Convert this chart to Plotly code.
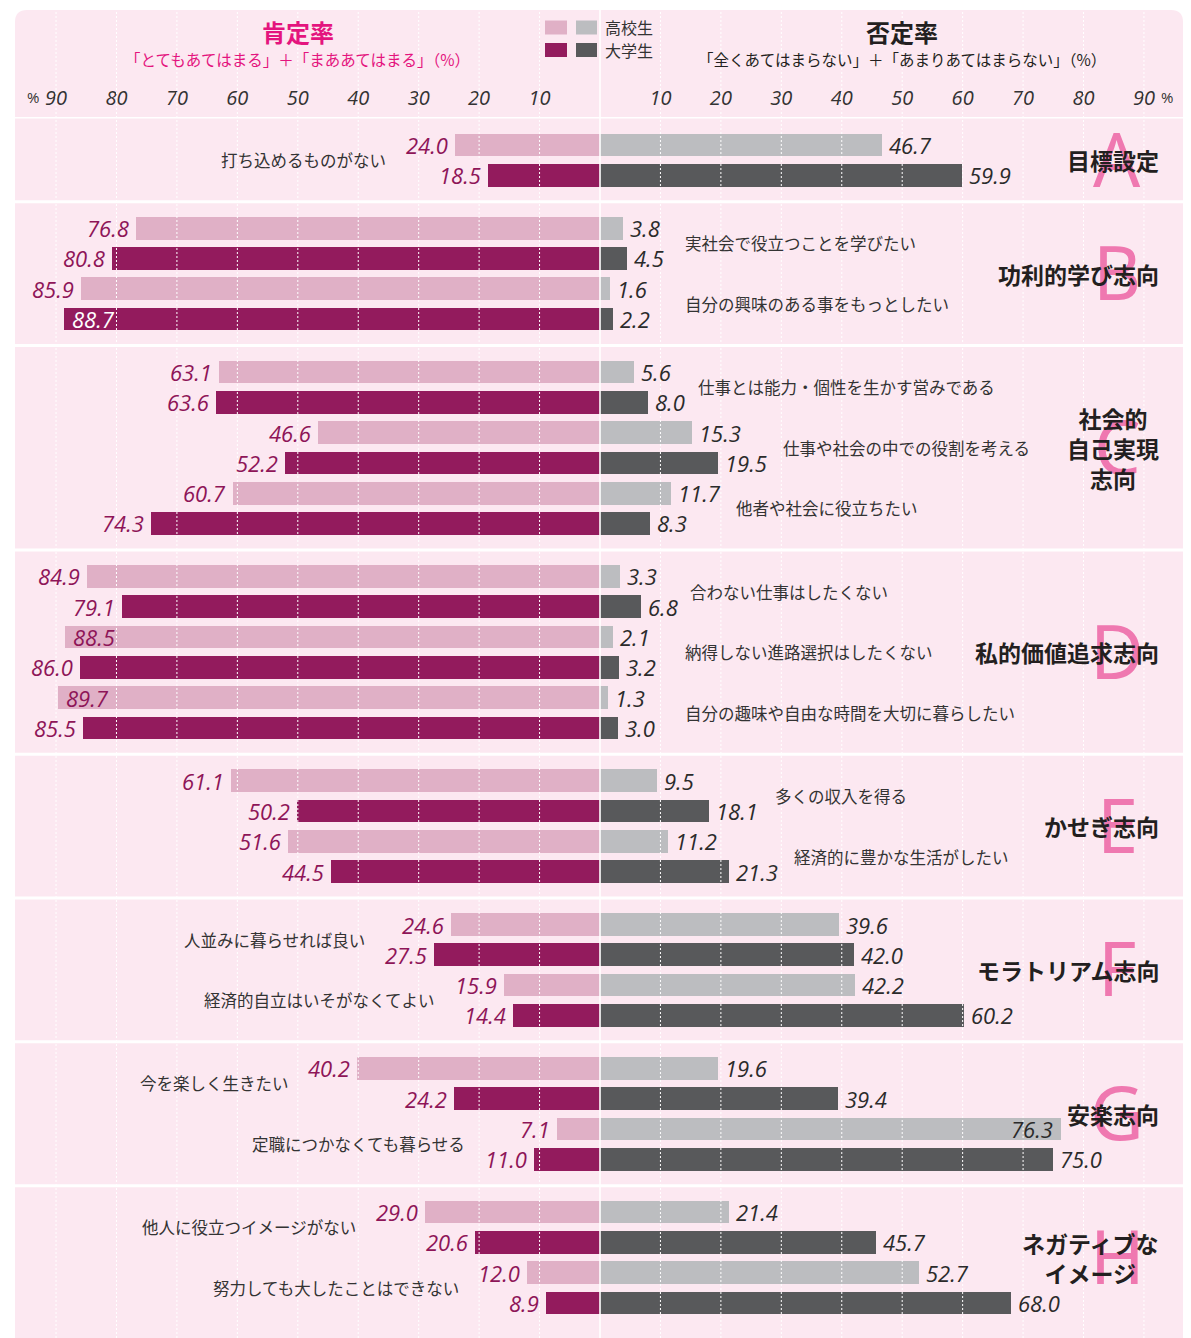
import plotly.graph_objects as go

# ---------------- data ----------------
group_titles = ["目標設定", "功利的学び志向", "社会的<br>自己実現<br>志向", "私的価値追求志向",
                "かせぎ志向", "モラトリアム志向", "安楽志向", "ネガティブな<br>イメージ"]
group_letters = ["A", "B", "C", "D", "E", "F", "G", "H"]
group_sizes = [1, 2, 3, 3, 2, 2, 2, 2]
statement_side = ["left", "right", "right", "right", "right", "left", "left", "left"]

statements = [
    "打ち込めるものがない",
    "実社会で役立つことを学びたい", "自分の興味のある事をもっとしたい",
    "仕事とは能力・個性を生かす営みである", "仕事や社会の中での役割を考える", "他者や社会に役立ちたい",
    "合わない仕事はしたくない", "納得しない進路選択はしたくない", "自分の趣味や自由な時間を大切に暮らしたい",
    "多くの収入を得る", "経済的に豊かな生活がしたい",
    "人並みに暮らせれば良い", "経済的自立はいそがなくてよい",
    "今を楽しく生きたい", "定職につかなくても暮らせる",
    "他人に役立つイメージがない", "努力しても大したことはできない",
]

# 肯定率 (positive rate, %)
pos_hs = [24.0, 76.8, 85.9, 63.1, 46.6, 60.7, 84.9, 88.5, 89.7, 61.1, 51.6, 24.6, 15.9, 40.2, 7.1, 29.0, 12.0]
pos_univ = [18.5, 80.8, 88.7, 63.6, 52.2, 74.3, 79.1, 86.0, 85.5, 50.2, 44.5, 27.5, 14.4, 24.2, 11.0, 20.6, 8.9]
# 否定率 (negative rate, %)
neg_hs = [46.7, 3.8, 1.6, 5.6, 15.3, 11.7, 3.3, 2.1, 1.3, 9.5, 11.2, 39.6, 42.2, 19.6, 76.3, 21.4, 52.7]
neg_univ = [59.9, 4.5, 2.2, 8.0, 19.5, 8.3, 6.8, 3.2, 3.0, 18.1, 21.3, 42.0, 60.2, 39.4, 75.0, 45.7, 68.0]

series_names = ["高校生", "大学生"]
tick_steps = [10, 20, 30, 40, 50, 60, 70, 80, 90]

header_pos_title = "肯定率"
header_pos_sub = "「とてもあてはまる」＋「まああてはまる」（%）"
header_neg_title = "否定率"
header_neg_sub = "「全くあてはまらない」＋「あまりあてはまらない」（%）"

# ---------------- styling ----------------
# The page body has an 8px margin, so the figure is drawn from page pixel (8, 8).
OFF = 8
PAGE_W, PAGE_H = 1191, 1338
W, H = PAGE_W - OFF, PAGE_H - OFF
PANEL_L, PANEL_R, PANEL_T = 15, 1183, 10    # page pixels
BODY_T = 117                                  # page pixel of the header/body separator
ML = PANEL_L - OFF
MR = PAGE_W - PANEL_R
MT = BODY_T - OFF
MB = 0
PX_PER_UNIT = 6.044
X_ZERO_PX = 600
ROW_GAP = 0.745
TOP_PAD, BOT_PAD = 0.924, 1.155
BAR_W = 0.75

C_BG = "#fce8f1"
C_HS_POS = "#e0b0c6"
C_UNIV_POS = "#931b5d"
C_HS_NEG = "#bcbdc0"
C_UNIV_NEG = "#58595b"
C_POS_TXT = "#8e1558"
C_NEG_TXT = "#2b2b2b"
C_TITLE_PINK = "#e4147e"
C_LETTER = "#ef78b0"
C_TEXT = "#333333"

JP = "Noto Sans CJK JP"
NUM = "Open Sans"

PLOT_W = PANEL_R - PANEL_L
PLOT_H = PAGE_H - BODY_T


def px_x(px):
    """page pixel x -> paper x"""
    return (px - PANEL_L) / PLOT_W


def px_y(py):
    """page pixel y -> paper y"""
    return (PAGE_H - py) / PLOT_H


x_range = [-(X_ZERO_PX - PANEL_L) / PX_PER_UNIT, (PANEL_R - X_ZERO_PX) / PX_PER_UNIT]

# ---------------- row layout ----------------
rows_hs, rows_univ, stmt_group = [], [], []
group_centers, separators = [], []
y = 0.0
for gi, n in enumerate(group_sizes):
    start = y
    for k in range(n):
        rows_hs.append(y)
        rows_univ.append(y + 1)
        stmt_group.append(gi)
        y += 2
    end = y - 1
    group_centers.append((start + end) / 2)
    if gi < len(group_sizes) - 1:
        separators.append(end + (1 + ROW_GAP) / 2)
        y = end + 1 + ROW_GAP
last_row = rows_univ[-1]
y_range = [last_row + BOT_PAD, -TOP_PAD]

fig = go.Figure()
common = dict(orientation="h", width=BAR_W, hoverinfo="skip", showlegend=False)
fig.add_trace(go.Bar(y=rows_hs, x=[-v for v in pos_hs], marker=dict(color=C_HS_POS, line_width=0),
                     name=series_names[0] + " 肯定率", **common))
fig.add_trace(go.Bar(y=rows_univ, x=[-v for v in pos_univ], marker=dict(color=C_UNIV_POS, line_width=0),
                     name=series_names[1] + " 肯定率", **common))
fig.add_trace(go.Bar(y=rows_hs, x=neg_hs, marker=dict(color=C_HS_NEG, line_width=0),
                     name=series_names[0] + " 否定率", **common))
fig.add_trace(go.Bar(y=rows_univ, x=neg_univ, marker=dict(color=C_UNIV_NEG, line_width=0),
                     name=series_names[1] + " 否定率", **common))

annotations = []
shapes = []

# panel background with rounded top corners
x0, x1 = px_x(PANEL_L), px_x(PANEL_R)
yt, yb = px_y(PANEL_T), px_y(PAGE_H)
rx, ry = 12 / PLOT_W, 12 / PLOT_H
shapes.append(dict(
    type="path", xref="paper", yref="paper", layer="below",
    path=(f"M {x0},{yb} L {x0},{yt - ry} Q {x0},{yt} {x0 + rx},{yt} "
          f"L {x1 - rx},{yt} Q {x1},{yt} {x1},{yt - ry} L {x1},{yb} Z"),
    fillcolor=C_BG, line=dict(width=0)))

# separators
sep_ys = [-TOP_PAD] + separators
for s in sep_ys:
    shapes.append(dict(type="line", xref="paper", yref="y", x0=x0, x1=x1, y0=s, y1=s,
                       line=dict(color="white", width=3), layer="above"))

# dotted grid lines (above bars)
for t in tick_steps:
    for sgn in (-1, 1):
        shapes.append(dict(type="line", xref="x", yref="paper", x0=sgn * t, x1=sgn * t,
                           y0=0, y1=yt, line=dict(color="white", width=1, dash="2px,2px"),
                           layer="above"))
# zero line
shapes.append(dict(type="line", xref="x", yref="paper", x0=0, x1=0, y0=0, y1=yt,
                   line=dict(color="white", width=1.6), layer="above"))

# value labels
NUMFONT = dict(family=NUM, size=22, style="italic")


def add_label(v, yrow, side, inside, color):
    if side == "left":
        x = -v
        xanchor = "left" if inside else "right"
        xshift = 6 if inside else -5
    else:
        x = v
        xanchor = "right" if inside else "left"
        xshift = -6 if inside else 5
    annotations.append(dict(x=x, y=yrow, xref="x", yref="y", text=f"{v:.1f}", showarrow=False,
                            xanchor=xanchor, yanchor="middle", xshift=xshift,
                            font=dict(NUMFONT, color=color)))


for i in range(len(statements)):
    v = pos_hs[i]
    add_label(v, rows_hs[i], "left", v >= 88, C_POS_TXT)
    v = pos_univ[i]
    add_label(v, rows_univ[i], "left", v >= 88, "white" if v >= 88 else C_POS_TXT)
    v = neg_hs[i]
    add_label(v, rows_hs[i], "right", v > 76, C_NEG_TXT)
    v = neg_univ[i]
    add_label(v, rows_univ[i], "right", v > 76, "white" if v > 76 else C_NEG_TXT)

# statement labels
for i, txt in enumerate(statements):
    g = stmt_group[i]
    mid = (rows_hs[i] + rows_univ[i]) / 2
    if statement_side[g] == "left":
        x = -(max(pos_hs[i], pos_univ[i]) + 11.0)
        xanchor = "right"
    else:
        m = max(neg_hs[i], neg_univ[i])
        x = max(m + (7.8 if m < 10 else 10.5), 13.8)
        xanchor = "left"
    annotations.append(dict(x=x, y=mid, xref="x", yref="y", text=txt, showarrow=False,
                            xanchor=xanchor, yanchor="middle", yshift=0,
                            font=dict(family=JP, size=16.5, color=C_TEXT)))

# group letters and titles
for gi, title in enumerate(group_titles):
    annotations.append(dict(x=px_x(1117), y=group_centers[gi], xref="paper", yref="y",
                            text=group_letters[gi], showarrow=False, xanchor="center",
                            yanchor="middle", yshift=2,
                            font=dict(family="Noto Sans", size=74, color=C_LETTER)))
for gi, title in enumerate(group_titles):
    annotations.append(dict(x=px_x(1161), y=group_centers[gi], xref="paper", yref="y",
                            text=title, showarrow=False, xanchor="right", align="center",
                            yanchor="middle",
                            font=dict(family=JP, size=23, color="#231f20", weight=700)))

# header
annotations += [
    dict(x=-50, y=px_y(32), xref="x", yref="paper", text=header_pos_title, showarrow=False,
         xanchor="center", yanchor="middle",
         font=dict(family=JP, size=24, color=C_TITLE_PINK, weight=700)),
    dict(x=-50, y=px_y(59), xref="x", yref="paper", text=header_pos_sub, showarrow=False,
         xanchor="center", yanchor="middle", font=dict(family=JP, size=15.5, color=C_TITLE_PINK)),
    dict(x=50, y=px_y(32), xref="x", yref="paper", text=header_neg_title, showarrow=False,
         xanchor="center", yanchor="middle", font=dict(family=JP, size=24, color="#231f20", weight=700)),
    dict(x=50, y=px_y(59), xref="x", yref="paper", text=header_neg_sub, showarrow=False,
         xanchor="center", yanchor="middle", font=dict(family=JP, size=15.5, color="#231f20")),
    dict(x=-tick_steps[-1], y=px_y(97), xref="x", yref="paper", text="%", showarrow=False,
         xanchor="center", yanchor="middle", xshift=-23, font=dict(family=NUM, size=15, color=C_TEXT)),
    dict(x=tick_steps[-1], y=px_y(97), xref="x", yref="paper", text="%", showarrow=False,
         xanchor="center", yanchor="middle", xshift=23, font=dict(family=NUM, size=15, color=C_TEXT)),
]

# legend (two swatches per series: positive / negative colour)
legend_rows = [(series_names[0], C_HS_POS, C_HS_NEG, 27.5), (series_names[1], C_UNIV_POS, C_UNIV_NEG, 50)]
for name, cpos, cneg, cy in legend_rows:
    for (a, b), c in (((545, 567), cpos), ((576, 597), cneg)):
        shapes.append(dict(type="rect", xref="paper", yref="paper", x0=px_x(a), x1=px_x(b),
                           y0=px_y(cy + 7), y1=px_y(cy - 7), fillcolor=c, line=dict(width=0),
                           layer="above"))
    annotations.append(dict(x=px_x(603), y=px_y(cy), xref="paper", yref="paper", text=name,
                            showarrow=False, xanchor="left", yanchor="middle",
                            font=dict(family=JP, size=16, color=C_TEXT)))

tickvals = [-t for t in tick_steps] + tick_steps
ticktext = [str(t) for t in tick_steps] * 2

fig.update_layout(
    width=W, height=H,
    margin=dict(l=ML, r=MR, t=MT, b=MB, pad=0),
    paper_bgcolor="white", plot_bgcolor="rgba(0,0,0,0)",
    barmode="overlay", bargap=0,
    showlegend=False,
    shapes=shapes, annotations=annotations,
    xaxis=dict(range=x_range, side="top", tickvals=tickvals, ticktext=ticktext,
               showgrid=False, zeroline=False, showline=False, ticks="",
               ticklabelstandoff=7,
               tickfont=dict(family=NUM, size=20, color=C_TEXT, style="italic"),
               fixedrange=True),
    yaxis=dict(range=y_range, visible=False, fixedrange=True),
)

fig.write_html("out.html", config=dict(displayModeBar=False))
